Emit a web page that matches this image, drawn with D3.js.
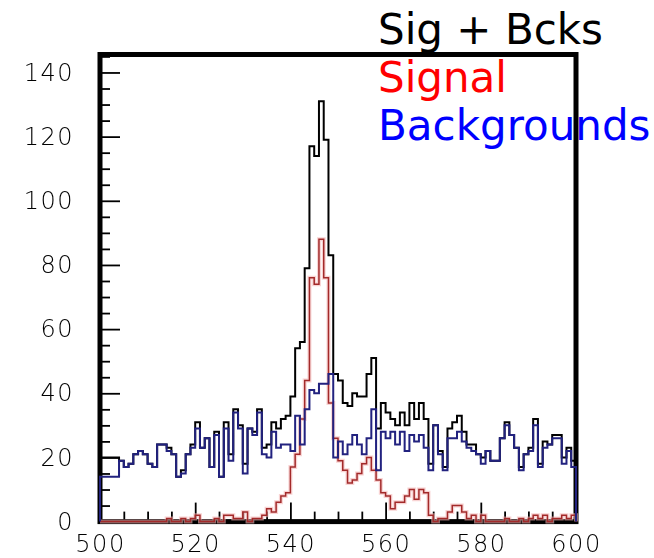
<!DOCTYPE html>
<html>
<head>
<meta charset="utf-8">
<script src="https://cdn.jsdelivr.net/npm/d3@7"></script>
<style>
  html, body { margin: 0; padding: 0; background: #fff; }
  svg { display: block; }
</style>
</head>
<body>
<svg id="chart" width="654" height="558"></svg>
<script>
// Histogram binning: 100 bins of width 1 from 500 to 600
const xMin = 500, xMax = 600, binWidth = 1;

// Bin contents (one value per bin, 500..599)
const signal = [
  0, 0, 0, 0, 0, 0, 0, 0, 0, 0,
  0, 0, 0, 0, 1, 0, 0, 1, 0, 1,
  2, 0, 0, 0, 1, 0, 2, 2, 1, 1,
  3, 0, 1, 1, 2, 4, 3, 6, 8, 9,
  17, 21, 32, 44, 76, 74, 88, 76, 37, 26,
  19, 16, 12, 13, 15, 18, 20, 16, 13, 9,
  8, 4, 6, 6, 8, 10, 7, 10, 9, 2,
  0, 1, 1, 3, 5, 5, 3, 1, 2, 0,
  2, 0, 0, 0, 0, 1, 0, 0, 1, 0,
  1, 2, 1, 2, 0, 1, 1, 2, 1, 2
];

const backgrounds = [
  14, 14, 14, 14, 19, 17, 18, 21, 22, 21,
  18, 17, 24, 24, 22, 21, 14, 15, 21, 23,
  29, 23, 26, 17, 27, 14, 29, 19, 34, 29,
  15, 29, 27, 34, 21, 20, 28, 23, 24, 24,
  22, 33, 24, 35, 41, 40, 43, 43, 46, 20,
  25, 21, 24, 27, 24, 21, 26, 35, 16, 28,
  26, 28, 24, 28, 22, 27, 25, 27, 23, 16,
  30, 21, 16, 26, 26, 28, 25, 23, 22, 21,
  18, 22, 19, 19, 26, 30, 27, 23, 16, 21,
  22, 30, 17, 23, 24, 26, 26, 18, 22, 17
];

const sigPlusBcks = [
  20, 20, 20, 20, 19, 17, 18, 21, 22, 21,
  18, 17, 24, 24, 23, 21, 14, 16, 21, 24,
  31, 23, 26, 17, 28, 14, 31, 21, 35, 30,
  18, 29, 28, 35, 23, 24, 31, 29, 32, 33,
  39, 54, 56, 79, 117, 114, 131, 119, 83, 46,
  44, 37, 36, 40, 39, 39, 46, 51, 29, 37,
  34, 32, 30, 34, 30, 37, 32, 37, 32, 18,
  30, 22, 17, 29, 31, 33, 28, 24, 24, 21,
  20, 22, 19, 19, 26, 31, 27, 23, 17, 21,
  23, 32, 18, 25, 24, 27, 27, 20, 23, 19
];

// Axis ticks
const xMajorTicks = [500, 520, 540, 560, 580, 600];
const yMajorTicks = [0, 20, 40, 60, 80, 100, 120, 140];
const xMinorTicks = d3.range(505, 600, 5).filter(v => v % 20 !== 0);
const yMinorTicks = d3.range(5, 146, 5).filter(v => v % 20 !== 0);

// Legend entries
const legendLabels = ["Sig + Bcks", "Signal", "Backgrounds"];
const legendColors = ["#000000", "#ff0000", "#0000ff"];

const svg = d3.select("#chart");

// Soft edge for the drawn plot content
const defs = svg.append("defs");
defs.append("filter").attr("id", "soft")
  .attr("x", "-5%").attr("y", "-5%").attr("width", "110%").attr("height", "110%")
  .append("feGaussianBlur").attr("stdDeviation", 0.55);

const frame = { left: 100, right: 576, top: 54.5, bottom: 521.6 };
const yTop = 145.6;

const x = d3.scaleLinear().domain([xMin, xMax]).range([frame.left, frame.right]);
const y = d3.scaleLinear().domain([0, yTop]).range([frame.bottom, frame.top]);

// Legend text (sits behind the frame line)
svg.append("g")
  .selectAll("text")
  .data(legendLabels)
  .join("text")
  .attr("x", 378)
  .attr("y", (d, i) => 44 + i * 48)
  .attr("fill", (d, i) => legendColors[i])
  .attr("font-family", "DejaVu Sans, sans-serif")
  .attr("font-size", 42)
  .text(d => d);

const plot = svg.append("g").attr("filter", "url(#soft)");

// Frame
plot.append("rect")
  .attr("x", frame.left)
  .attr("y", frame.top)
  .attr("width", frame.right - frame.left)
  .attr("height", frame.bottom - frame.top)
  .attr("fill", "none")
  .attr("stroke", "#000")
  .attr("stroke-width", 5);

const tickFont = g => g.selectAll("text")
  .attr("font-family", "DejaVu Sans, sans-serif")
  .attr("font-weight", 200)
  .attr("font-size", 24)
  .attr("letter-spacing", 1.5)
  .attr("fill", "#000");

// Y axis: major ticks with labels, minor ticks without
const yAxis = plot.append("g")
  .attr("transform", `translate(${frame.left},0)`)
  .call(d3.axisLeft(y).tickValues(yMajorTicks).tickSize(-20).tickPadding(26).tickFormat(d3.format("d")));
yAxis.call(tickFont);
plot.append("g")
  .attr("transform", `translate(${frame.left},0)`)
  .call(d3.axisLeft(y).tickValues(yMinorTicks).tickSize(-10).tickFormat(""));

// X axis
const xAxis = plot.append("g")
  .attr("transform", `translate(0,${frame.bottom})`)
  .call(d3.axisBottom(x).tickValues(xMajorTicks).tickSize(-19).tickPadding(13).tickFormat(d3.format("d")));
xAxis.call(tickFont);
plot.append("g")
  .attr("transform", `translate(0,${frame.bottom})`)
  .call(d3.axisBottom(x).tickValues(xMinorTicks).tickSize(-10).tickFormat(""));

plot.selectAll(".domain").remove();
plot.selectAll(".tick line").attr("stroke", "#000").attr("stroke-width", 1.8);

// Step outlines of the histograms
const stepLine = d3.line()
  .x(d => x(d[0]))
  .y(d => y(d[1]))
  .curve(d3.curveStepAfter);

function outline(values) {
  const pts = [[xMin, 0]];
  values.forEach((v, i) => pts.push([xMin + i * binWidth, v]));
  pts.push([xMax, values[values.length - 1]]);
  pts.push([xMax, 0]);
  return stepLine(pts);
}

const hist = plot.append("g").attr("fill", "none").attr("stroke-linejoin", "miter");

hist.append("path")
  .attr("d", outline(sigPlusBcks))
  .attr("stroke", "#000")
  .attr("stroke-width", 2);

// Signal: thin dark red line with a soft pink halo
hist.append("path")
  .attr("d", outline(signal))
  .attr("stroke", "#f4b6b6")
  .attr("stroke-width", 4)
  .attr("stroke-opacity", 0.6);
hist.append("path")
  .attr("d", outline(signal))
  .attr("stroke", "#a32c2c")
  .attr("stroke-width", 1.5);

hist.append("path")
  .attr("d", outline(backgrounds))
  .attr("stroke", "#20207f")
  .attr("stroke-width", 2);
</script>
</body>
</html>
